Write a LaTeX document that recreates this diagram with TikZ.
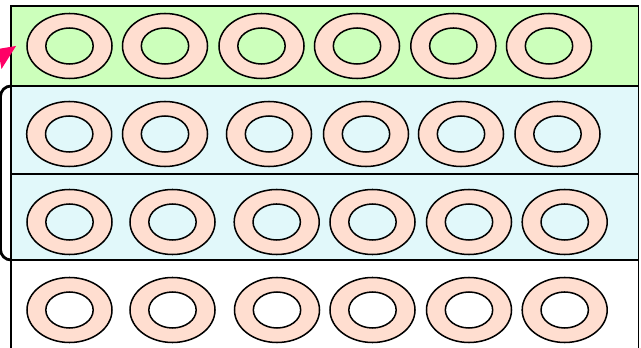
\documentclass[tikz,border=0pt]{standalone}
\usetikzlibrary{shapes.geometric}

\definecolor{bandgreen}{RGB}{204,255,187}
\definecolor{bandcyan}{RGB}{225,248,250}
\definecolor{ringpeach}{RGB}{255,222,208}
\definecolor{markpink}{RGB}{255,0,102}

\begin{document}
\begin{tikzpicture}[x=0.03cm,y=-0.03cm]
\tikzset{
  band/.style={draw=black,line width=1.4pt},
  ring/.style={ellipse,draw=black,line width=1.3pt,fill=ringpeach,minimum width=2.55cm,minimum height=1.95cm,inner sep=0pt},
  hole/.style={ellipse,draw=black,line width=1.3pt,minimum width=1.42cm,minimum height=1.08cm,inner sep=0pt},
  bracket/.style={draw=black,line width=2.4pt,rounded corners=9pt}
}
\useasboundingbox (0,0) rectangle (641,348);
% bands
\draw[band,fill=white] (11,260) rectangle (638.5,360);
\draw[band,fill=bandcyan] (11,174) rectangle (638.5,260);
\draw[band,fill=bandcyan] (11,86) rectangle (638.5,174);
\draw[band,fill=bandgreen] (11,6) rectangle (638.5,86);
% row 1
\node[ring] (r_1_1) at (69.5,46) {};
\node[ring] (r_1_2) at (165,46) {};
\node[ring] (r_1_3) at (261.5,46) {};
\node[ring] (r_1_4) at (357,46) {};
\node[ring] (r_1_5) at (453.3,46) {};
\node[ring] (r_1_6) at (549,46) {};
\node[hole,fill=bandgreen] (h_1_1) at (r_1_1) {};
\node[hole,fill=bandgreen] (h_1_2) at (r_1_2) {};
\node[hole,fill=bandgreen] (h_1_3) at (r_1_3) {};
\node[hole,fill=bandgreen] (h_1_4) at (r_1_4) {};
\node[hole,fill=bandgreen] (h_1_5) at (r_1_5) {};
\node[hole,fill=bandgreen] (h_1_6) at (r_1_6) {};
% row 2
\node[ring] (r_2_1) at (69.2,134) {};
\node[ring] (r_2_2) at (165,134) {};
\node[ring] (r_2_3) at (269,134) {};
\node[ring] (r_2_4) at (366,134) {};
\node[ring] (r_2_5) at (461,134) {};
\node[ring] (r_2_6) at (557.5,134) {};
\node[hole,fill=bandcyan] (h_2_1) at (r_2_1) {};
\node[hole,fill=bandcyan] (h_2_2) at (r_2_2) {};
\node[hole,fill=bandcyan] (h_2_3) at (r_2_3) {};
\node[hole,fill=bandcyan] (h_2_4) at (r_2_4) {};
\node[hole,fill=bandcyan] (h_2_5) at (r_2_5) {};
\node[hole,fill=bandcyan] (h_2_6) at (r_2_6) {};
% row 3
\node[ring] (r_3_1) at (69.5,222) {};
\node[ring] (r_3_2) at (172.5,222) {};
\node[ring] (r_3_3) at (276.7,222) {};
\node[ring] (r_3_4) at (372.5,222) {};
\node[ring] (r_3_5) at (469,222) {};
\node[ring] (r_3_6) at (564.7,222) {};
\node[hole,fill=bandcyan] (h_3_1) at (r_3_1) {};
\node[hole,fill=bandcyan] (h_3_2) at (r_3_2) {};
\node[hole,fill=bandcyan] (h_3_3) at (r_3_3) {};
\node[hole,fill=bandcyan] (h_3_4) at (r_3_4) {};
\node[hole,fill=bandcyan] (h_3_5) at (r_3_5) {};
\node[hole,fill=bandcyan] (h_3_6) at (r_3_6) {};
% row 4
\node[ring] (r_4_1) at (69.5,310) {};
\node[ring] (r_4_2) at (172.5,310) {};
\node[ring] (r_4_3) at (277,310) {};
\node[ring] (r_4_4) at (372.5,310) {};
\node[ring] (r_4_5) at (469,310) {};
\node[ring] (r_4_6) at (564.7,310) {};
\node[hole,fill=white] (h_4_1) at (r_4_1) {};
\node[hole,fill=white] (h_4_2) at (r_4_2) {};
\node[hole,fill=white] (h_4_3) at (r_4_3) {};
\node[hole,fill=white] (h_4_4) at (r_4_4) {};
\node[hole,fill=white] (h_4_5) at (r_4_5) {};
\node[hole,fill=white] (h_4_6) at (r_4_6) {};
% bracket and marker
\coordinate (brace_top) at (11,86);
\coordinate (brace_bot) at (11,260);
\draw[bracket] (brace_top) -- (0.5,86) -- (0.5,260) -- (brace_bot);
\coordinate (mark_tip) at (16,46);
\fill[markpink] (mark_tip) -- (-2,49) -- (1.5,69) -- cycle;
\end{tikzpicture}
\end{document}
